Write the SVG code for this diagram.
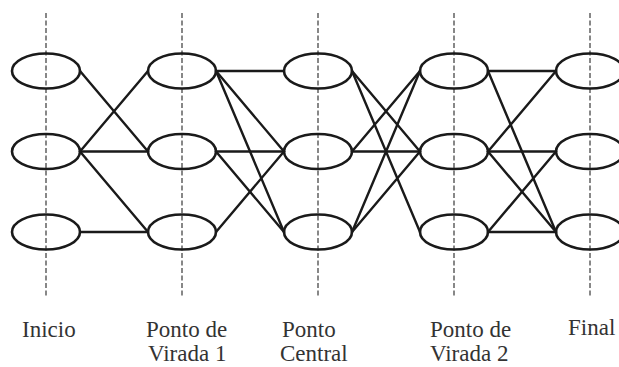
<svg xmlns="http://www.w3.org/2000/svg" width="619" height="367" viewBox="0 0 619 367">
<style>
.guide{stroke:#555;stroke-width:1.4;stroke-dasharray:5 2.5;fill:none}
.node{fill:none;stroke:#1a1a1a;stroke-width:2.6}
.edge{stroke:#1a1a1a;stroke-width:2.4;fill:none;stroke-linecap:round}
.lbl{font-family:'Liberation Serif','Times New Roman','DejaVu Serif',serif;font-size:23px;fill:#333}
</style>
<rect width="619" height="367" fill="#fff"/>
<g id="guides">
<line class="guide" x1="46" y1="13" x2="46" y2="298"/>
<line class="guide" x1="182" y1="13" x2="182" y2="298"/>
<line class="guide" x1="318" y1="13" x2="318" y2="298"/>
<line class="guide" x1="454" y1="13" x2="454" y2="298"/>
<line class="guide" x1="590" y1="13" x2="590" y2="298"/>
</g>
<g id="connectors">
<line class="edge" x1="80" y1="71" x2="148" y2="151.5"/>
<line class="edge" x1="80" y1="151.5" x2="148" y2="71"/>
<line class="edge" x1="80" y1="151.5" x2="148" y2="151.5"/>
<line class="edge" x1="80" y1="151.5" x2="148" y2="232"/>
<line class="edge" x1="80" y1="232" x2="148" y2="232"/>
<line class="edge" x1="216" y1="71" x2="284" y2="71"/>
<line class="edge" x1="216" y1="71" x2="284" y2="151.5"/>
<line class="edge" x1="216" y1="71" x2="284" y2="232"/>
<line class="edge" x1="216" y1="151.5" x2="284" y2="151.5"/>
<line class="edge" x1="216" y1="151.5" x2="284" y2="232"/>
<line class="edge" x1="216" y1="232" x2="284" y2="151.5"/>
<line class="edge" x1="352" y1="71" x2="420" y2="151.5"/>
<line class="edge" x1="352" y1="71" x2="420" y2="232"/>
<line class="edge" x1="352" y1="151.5" x2="420" y2="71"/>
<line class="edge" x1="352" y1="151.5" x2="420" y2="151.5"/>
<line class="edge" x1="352" y1="232" x2="420" y2="71"/>
<line class="edge" x1="352" y1="232" x2="420" y2="151.5"/>
<line class="edge" x1="488" y1="71" x2="556" y2="71"/>
<line class="edge" x1="488" y1="71" x2="556" y2="232"/>
<line class="edge" x1="488" y1="151.5" x2="556" y2="71"/>
<line class="edge" x1="488" y1="151.5" x2="556" y2="151.5"/>
<line class="edge" x1="488" y1="151.5" x2="556" y2="232"/>
<line class="edge" x1="488" y1="232" x2="556" y2="151.5"/>
<line class="edge" x1="488" y1="232" x2="556" y2="232"/>
</g>
<g id="inicio">
<ellipse id="n0a" class="node" cx="46" cy="71" rx="34" ry="17.5"/>
<ellipse id="n0b" class="node" cx="46" cy="151.5" rx="34" ry="17.5"/>
<ellipse id="n0c" class="node" cx="46" cy="232" rx="34" ry="17.5"/>
<text class="lbl" x="22" y="337">Inicio</text>
</g>
<g id="virada1">
<ellipse id="n1a" class="node" cx="182" cy="71" rx="34" ry="17.5"/>
<ellipse id="n1b" class="node" cx="182" cy="151.5" rx="34" ry="17.5"/>
<ellipse id="n1c" class="node" cx="182" cy="232" rx="34" ry="17.5"/>
<text class="lbl" x="146" y="337">Ponto de</text>
<text class="lbl" x="148" y="361">Virada 1</text>
</g>
<g id="central">
<ellipse id="n2a" class="node" cx="318" cy="71" rx="34" ry="17.5"/>
<ellipse id="n2b" class="node" cx="318" cy="151.5" rx="34" ry="17.5"/>
<ellipse id="n2c" class="node" cx="318" cy="232" rx="34" ry="17.5"/>
<text class="lbl" x="282" y="337">Ponto</text>
<text class="lbl" x="280" y="361">Central</text>
</g>
<g id="virada2">
<ellipse id="n3a" class="node" cx="454" cy="71" rx="34" ry="17.5"/>
<ellipse id="n3b" class="node" cx="454" cy="151.5" rx="34" ry="17.5"/>
<ellipse id="n3c" class="node" cx="454" cy="232" rx="34" ry="17.5"/>
<text class="lbl" x="430" y="337">Ponto de</text>
<text class="lbl" x="430" y="361">Virada 2</text>
</g>
<g id="final">
<ellipse id="n4a" class="node" cx="590" cy="71" rx="34" ry="17.5"/>
<ellipse id="n4b" class="node" cx="590" cy="151.5" rx="34" ry="17.5"/>
<ellipse id="n4c" class="node" cx="590" cy="232" rx="34" ry="17.5"/>
<text class="lbl" x="568" y="335">Final</text>
</g>
</svg>
